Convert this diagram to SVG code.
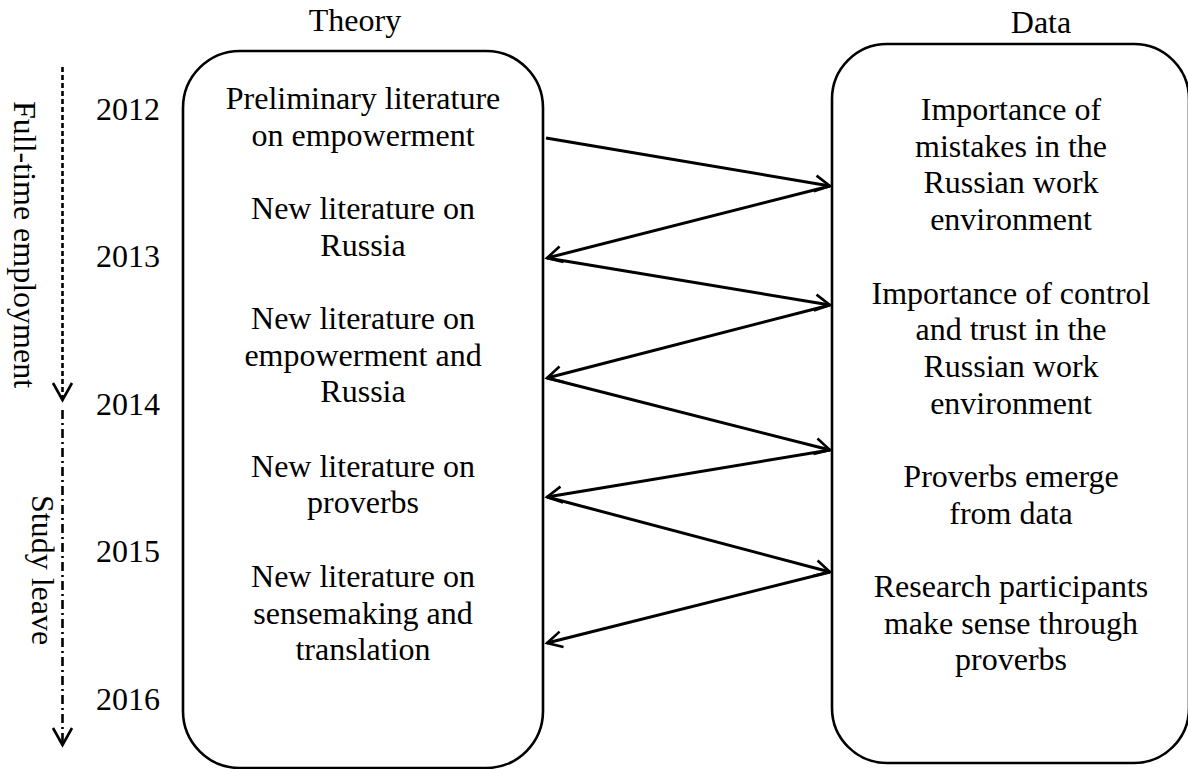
<svg xmlns="http://www.w3.org/2000/svg" width="1188" height="769" viewBox="0 0 1188 769">
<defs>
<style>
text{font-family:"Liberation Serif","Times New Roman",serif;font-size:32px;fill:#000}
.c{text-anchor:middle}
.box{fill:none;stroke:#000;stroke-width:2.6}
.arr{fill:none;stroke:#000;stroke-width:3;marker-end:url(#chev)}
.tl{fill:none;stroke:#000;stroke-width:2.6}
</style>
<marker id="chev" markerUnits="userSpaceOnUse" markerWidth="30" markerHeight="30" viewBox="-20 -15 30 30" refX="0" refY="0" orient="auto">
<path d="M-15,-8 L0,0 L-15,8" fill="none" stroke="#000" stroke-width="2.6"/>
</marker>
</defs>
<g id="timeline">
<line class="tl" x1="62.5" y1="67" x2="62.5" y2="398" stroke-dasharray="5 3"/>
<path class="tl" d="M53,383 L62.5,400 L72,383"/>
<line class="tl" x1="62.5" y1="410" x2="62.5" y2="743" stroke-dasharray="9 4 2 4"/>
<path class="tl" d="M53,728 L62.5,745 L72,728"/>
<text transform="translate(14,101) rotate(90)">Full-time employment</text>
<text transform="translate(32,495) rotate(90)">Study leave</text>
<text x="96" y="120">2012</text>
<text x="96" y="267">2013</text>
<text x="96" y="415">2014</text>
<text x="96" y="562">2015</text>
<text x="96" y="710">2016</text>
</g>
<g id="theory">
<text class="c" x="355" y="31">Theory</text>
<rect class="box" x="183" y="51" width="360" height="717" rx="57" ry="57"/>
<text class="c" x="363" y="109">Preliminary literature</text>
<text class="c" x="363" y="145.7">on empowerment</text>
<text class="c" x="363" y="219">New literature on</text>
<text class="c" x="363" y="255.7">Russia</text>
<text class="c" x="363" y="329">New literature on</text>
<text class="c" x="363" y="365.7">empowerment and</text>
<text class="c" x="363" y="402.4">Russia</text>
<text class="c" x="363" y="476.5">New literature on</text>
<text class="c" x="363" y="513.2">proverbs</text>
<text class="c" x="363" y="587">New literature on</text>
<text class="c" x="363" y="623.7">sensemaking and</text>
<text class="c" x="363" y="660.4">translation</text>
</g>
<g id="data">
<text class="c" x="1041" y="33">Data</text>
<rect class="box" x="832" y="44" width="357" height="719" rx="55" ry="55"/>
<text class="c" x="1011" y="120">Importance of</text>
<text class="c" x="1011" y="156.7">mistakes in the</text>
<text class="c" x="1011" y="193.4">Russian work</text>
<text class="c" x="1011" y="230">environment</text>
<text class="c" x="1011" y="303.5">Importance of control</text>
<text class="c" x="1011" y="340.2">and trust in the</text>
<text class="c" x="1011" y="376.9">Russian work</text>
<text class="c" x="1011" y="413.6">environment</text>
<text class="c" x="1011" y="487">Proverbs emerge</text>
<text class="c" x="1011" y="523.7">from data</text>
<text class="c" x="1011" y="597">Research participants</text>
<text class="c" x="1011" y="633.7">make sense through</text>
<text class="c" x="1011" y="670.4">proverbs</text>
</g>
<g id="connectors">
<line class="arr" x1="546" y1="138" x2="830" y2="186"/>
<line class="arr" x1="830" y1="186" x2="547" y2="258"/>
<line class="arr" x1="547" y1="258" x2="830" y2="305"/>
<line class="arr" x1="830" y1="305" x2="547" y2="378"/>
<line class="arr" x1="547" y1="378" x2="830" y2="450"/>
<line class="arr" x1="830" y1="450" x2="547" y2="497"/>
<line class="arr" x1="547" y1="497" x2="830" y2="572"/>
<line class="arr" x1="830" y1="572" x2="547" y2="643"/>
</g>
</svg>
